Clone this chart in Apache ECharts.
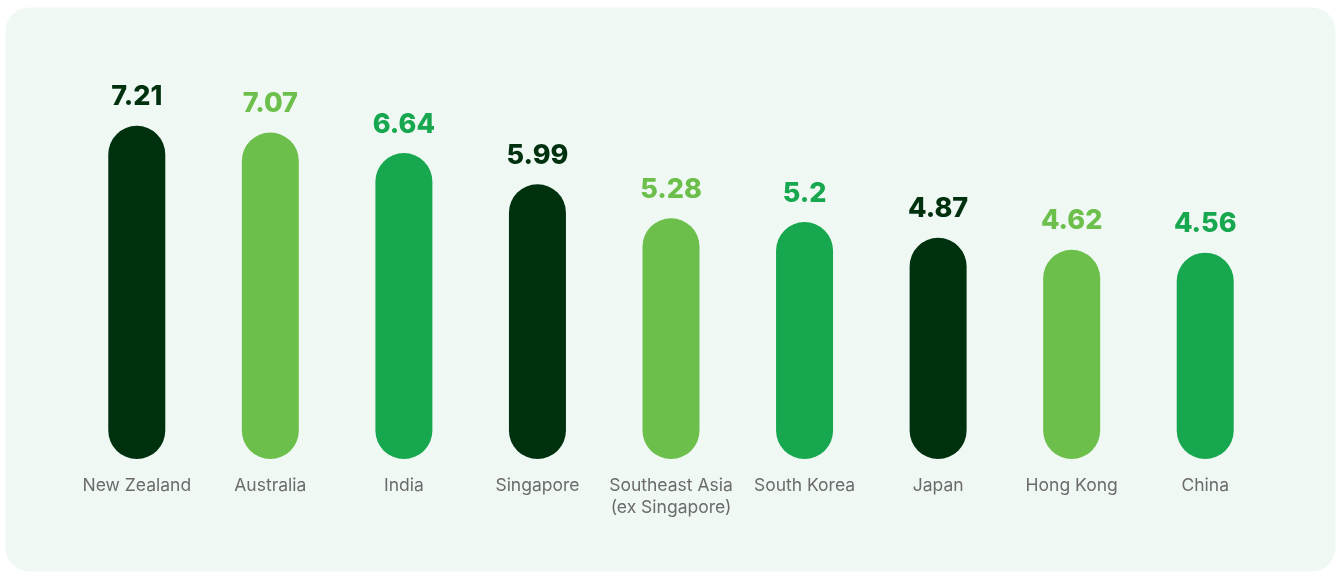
<!DOCTYPE html>
<html>
<head>
<meta charset="utf-8">
<script src="https://cdn.jsdelivr.net/npm/echarts@6/dist/echarts.min.js"></script>
<style>
  html, body { margin: 0; padding: 0; background: #ffffff; }
  #chart { width: 1338px; height: 574px; }
</style>
</head>
<body>
<div id="chart"></div>
<script>
// Market categories and their scores
const categories = [
  'New Zealand', 'Australia', 'India', 'Singapore',
  'Southeast Asia\n(ex Singapore)', 'South Korea', 'Japan', 'Hong Kong', 'China'
];
const values = [7.21, 7.07, 6.64, 5.99, 5.28, 5.2, 4.87, 4.62, 4.56];

// Three-colour green palette cycling across the bars
const palette = ['#00310f', '#6dbf4b', '#17a84f'];

const chart = echarts.init(document.getElementById('chart'), null, { renderer: 'canvas' });

const barData = values.map((v, i) => ({
  value: v,
  itemStyle: { color: palette[i % palette.length] },
  label: { color: palette[i % palette.length] }
}));

chart.setOption({
  backgroundColor: '#ffffff',
  animation: false,
  graphic: [{
    type: 'rect',
    z: -10,
    shape: { x: 5.5, y: 7.5, width: 1330, height: 564, r: 24 },
    style: { fill: '#eff8f3' }
  }],
  grid: { left: 70, right: 66, top: 88, bottom: 115, containLabel: false },
  xAxis: {
    type: 'category',
    data: categories,
    axisLine: { show: false },
    axisTick: { show: false },
    axisLabel: {
      margin: 16,
      color: '#6b6b6b',
      fontFamily: 'Inter',
      fontSize: 17.5,
      lineHeight: 22,
      interval: 0
    }
  },
  yAxis: {
    type: 'value',
    min: 0.25,
    max: 8,
    show: false,
    splitLine: { show: false }
  },
  series: [{
    type: 'bar',
    data: barData,
    barWidth: 57,
    itemStyle: { borderRadius: 28.5 },
    label: {
      show: true,
      position: 'top',
      distance: 15,
      fontFamily: 'Inter',
      fontWeight: 800,
      fontSize: 27
    }
  }]
});
</script>
</body>
</html>
